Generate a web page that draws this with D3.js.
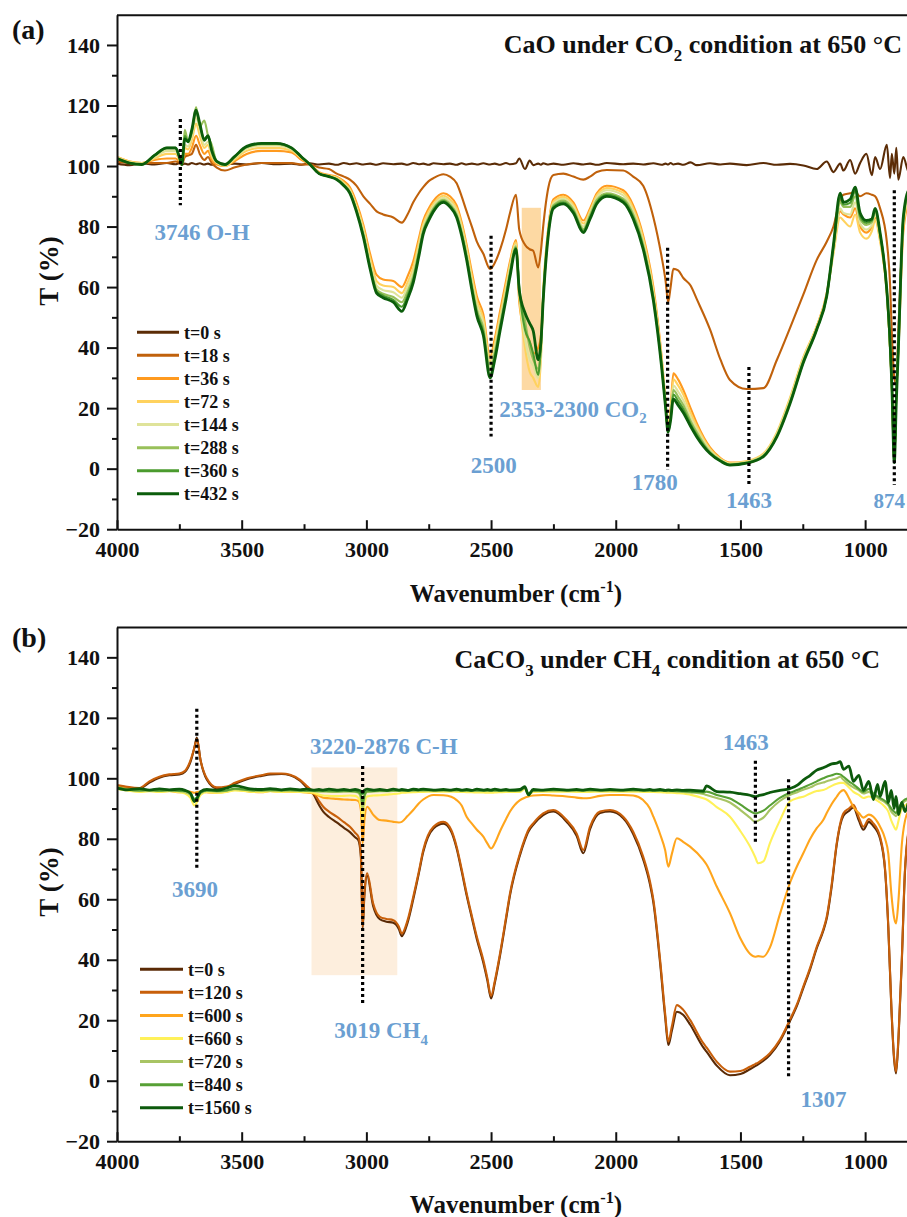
<!DOCTYPE html>
<html>
<head>
<meta charset="utf-8">
<script src="https://cdn.jsdelivr.net/npm/d3@7"></script>
<style>
  body { margin: 0; background: #fff; }
  svg { display: block; }
</style>
</head>
<body>
<div id="chart"></div>
<script>
// ---------- data: panel (a) CaO under CO2 ----------
const wnA = [
  4000, 3950, 3900, 3850, 3800, 3765, 3750, 3740, 3728, 3715,
  3700, 3683, 3668, 3650, 3635, 3620, 3600, 3567, 3530, 3480,
  3420, 3360, 3300, 3260, 3226, 3190, 3150, 3119, 3090, 3066,
  3040, 3012, 2985, 2959, 2933, 2892, 2858, 2835, 2812, 2790,
  2772, 2750, 2731, 2691, 2665, 2638, 2618, 2598, 2577, 2557,
  2531, 2504, 2485, 2464, 2440, 2424, 2400, 2387, 2364, 2345,
  2331, 2311, 2300, 2291, 2270, 2250, 2210, 2170, 2130, 2103,
  2076, 2036, 1970, 1930, 1890, 1849, 1816, 1800, 1790, 1780,
  1769, 1750, 1729, 1700, 1675, 1622, 1580, 1542, 1475, 1408,
  1354, 1301, 1248, 1194, 1154, 1127, 1100, 1087, 1060, 1040,
  1020, 995, 973, 960, 940, 913, 900, 893, 883, 875,
  867, 847, 825, 800
];
const a_t0 = [
  100.8, 100.3, 100.9, 100.5, 101, 100.6, 100.9, 100.4, 100.8, 100.5,
  101, 100.6, 100.9, 100.5, 100.8, 100.4, 100.9, 100.6, 100.8, 100.5,
  101, 100.6, 100.8, 100.4, 100.9, 100.5, 100.8, 100.4, 101, 100.6,
  100.9, 100.5, 100.8, 100.4, 100.9, 100.6, 100.8, 100.4, 101, 100.6,
  100.8, 100.4, 100.9, 100.6, 100.8, 100.4, 100.9, 100.5, 100.8, 100.5,
  100.9, 100.5, 100.8, 100.4, 101, 100.6, 100.9, 102.5, 99, 101.8,
  100.3, 100.8, 100.4, 100.9, 100.5, 100.8, 100.4, 100.9, 100.5, 100.8,
  100.4, 101, 100.6, 100.8, 100.5, 100.9, 100.4, 100.8, 100.5, 101,
  100.5, 100.8, 100.4, 101.2, 100.3, 100.9, 100.5, 100.8, 100.3, 101,
  100.4, 100.7, 100.2, 99, 101.5, 98, 100.8, 98.5, 102, 97.5,
  101, 104, 97, 103, 99, 107, 96, 104, 97.5, 106,
  95.5, 103, 98, 105
];
const a_t18 = [
  101.5, 101, 101, 101, 101, 101.5, 101, 100.5, 103, 103.5,
  104, 107, 104, 102, 103, 101, 99.5, 98.5, 99.5, 100.5,
  101, 101, 101, 100.5, 100.5, 99.5, 99, 97.5, 96.5, 95.5,
  93.5, 90, 87.5, 85, 84, 83, 81.3, 84, 88, 91,
  93, 95, 96, 97.3, 96.5, 94.3, 90, 85, 80, 75,
  71, 66, 68, 72.3, 79, 84.5, 90.5, 79, 74, 72.5,
  72, 66.5, 72, 80, 93, 97, 97.5, 96.5, 95.5, 96.5,
  98, 98.7, 98.5, 96.5, 93.5, 83, 70, 62, 55, 60,
  66, 65.5, 63, 60.5, 56, 46, 36, 29.3, 26.3, 26.6,
  35.9, 46.5, 57.5, 69, 75, 80, 89, 90.5, 91, 91.5,
  90, 91, 90.5, 90, 86, 75, 61, 45, 30, 28,
  45, 80, 90, 91
];
const a_t36 = [
  103, 101.5, 101, 102, 102.5, 102.5, 101.5, 100.5, 104, 104,
  106, 110, 107, 104, 105, 102, 100.5, 100, 101.5, 104,
  105, 105, 104.5, 102, 100.5, 98, 97, 96.5, 95, 93,
  88, 80.5, 71, 64, 62.5, 62, 60, 63.5, 68.5, 76,
  82, 86, 88.5, 91, 90, 87, 81.5, 74, 65, 57,
  51, 37, 43, 52, 62, 68.5, 75.5, 55, 45, 42,
  38, 40, 44, 58, 80, 89, 90.5, 88, 82, 86,
  91, 93.5, 92, 87, 77, 60, 37, 22, 13.5, 20,
  31.5, 29.5, 26, 20, 15, 7, 3.5, 2, 2, 4.5,
  11.5, 23, 36.5, 47, 58, 72, 85, 84, 83, 86,
  80, 78, 80, 83, 76, 58, 40, 28, 4, 25,
  38, 78, 88, 90
];
const a_t72 = [
  103, 101.5, 101, 102.5, 104, 104, 102, 100.5, 106, 105.5,
  108.5, 114, 110, 106, 107, 103, 101, 100, 102, 105,
  106, 106, 105, 102.5, 100.5, 97.8, 96.8, 96.2, 94.5, 92.3,
  87, 79.5, 69.5, 62, 60.5, 60, 58, 61.5, 66.5, 74.5,
  80.8, 85, 87.5, 90.2, 89, 86, 80.5, 73, 63.5, 55.5,
  49.5, 35.5, 41.5, 50.5, 60.5, 67.5, 74.8, 57, 40, 32,
  30, 27, 36, 57.5, 79.5, 88.2, 89.8, 87.2, 81, 85.2,
  90.3, 92.7, 91.2, 86, 76, 58.8, 36, 21.5, 13, 18.5,
  29.5, 27.5, 24.5, 18.5, 14, 6.5, 3.2, 1.8, 2.5, 5,
  12, 23.5, 36.8, 47, 57.5, 71, 83, 82, 80, 84,
  78, 76, 78.5, 82, 75, 58, 40, 27, 3, 25,
  39, 80, 89, 91
];
const a_t144 = [
  102.8, 101.2, 100.8, 103, 105, 105, 102.5, 100.5, 107, 106.5,
  110, 116, 112, 107, 108, 104, 101.2, 100.2, 102.5, 105.8,
  106.8, 106.8, 105.5, 102.8, 100.5, 97.6, 96.6, 95.9, 94, 91.8,
  86.2, 78.5, 68.2, 60.5, 59, 58.3, 56.5, 60, 65, 73,
  79.8, 84, 86.8, 89.5, 88.2, 85, 79.4, 71.8, 62, 54,
  48, 34, 40, 49, 59, 66.5, 74, 58, 43, 36,
  34, 30, 38, 57, 79, 87.5, 89.2, 86.5, 80, 84.5,
  89.6, 92, 90.3, 85, 75, 57.8, 35.3, 21, 12.8, 17.8,
  27.5, 25.5, 22.6, 17, 13, 6, 3, 1.6, 2.2, 4.6,
  11.5, 22.8, 36.2, 46.6, 57.3, 72, 86, 84.5, 84, 88,
  81, 79, 80.5, 84, 76.5, 58.5, 40, 27.5, 2.5, 25,
  39.5, 81, 90, 92
];
const a_t288 = [
  102.5, 101, 100.6, 103.5, 105.8, 105.8, 103, 100.5, 112, 108,
  111, 119.5, 113, 115, 110, 107, 101.5, 100.3, 102.8, 106.2,
  107.2, 107.2, 105.8, 103, 100.5, 97.5, 96.5, 95.7, 93.8, 91.4,
  85.6, 77.5, 67, 59.2, 57.8, 56.7, 55, 58.5, 63.5, 71.8,
  78.8, 83.2, 86, 88.8, 87.4, 84, 78.3, 70.5, 60.8, 52.5,
  46.5, 32.5, 38.5, 47.5, 57.8, 65.2, 73.5, 60, 49, 40,
  36, 33, 40, 56.5, 78.5, 87, 88.6, 85.7, 79.2, 83.8,
  88.8, 91, 89.2, 84, 74, 56.8, 34.6, 20.6, 12.5, 17,
  26, 23.8, 21, 15.8, 12, 5.5, 2.8, 1.4, 2, 4.3,
  11, 22.2, 35.6, 46.3, 57.1, 73, 88, 86.5, 86.5, 90,
  82.5, 80.5, 81.5, 85, 77.2, 58.8, 40, 27.8, 2.2, 25,
  39.8, 82, 91, 92.5
];
const a_t360 = [
  102.5, 101, 100.5, 103.5, 106, 106, 103, 100.5, 110, 108,
  111.5, 118, 113.5, 109, 110, 105.5, 101.5, 100.4, 103, 106.4,
  107.4, 107.4, 106, 103, 100.5, 97.5, 96.5, 95.6, 93.6, 91.2,
  85.3, 77, 66.5, 58.6, 57.2, 55.8, 53.5, 57.2, 62.5, 70.9,
  78.2, 82.6, 85.5, 88.4, 86.9, 83.5, 77.6, 69.7, 59.9, 51.5,
  45.2, 31, 37.2, 46.5, 56.9, 64.3, 73, 59.5, 46, 42,
  38, 31, 41, 56, 78, 86.5, 88, 85.1, 78.6, 83.1,
  88.1, 90.5, 88.6, 83.2, 73.2, 56.2, 34, 20.3, 12.2, 16.5,
  24.5, 22.4, 19.7, 14.8, 11.2, 5.2, 2.6, 1.3, 1.9, 4.1,
  10.7, 21.8, 35.2, 46.1, 57, 73.5, 89.5, 87.2, 87.8, 91.5,
  83.5, 81.2, 82, 85.5, 77.6, 58.9, 40, 27.9, 2.1, 25,
  39.9, 82.5, 91.5, 92.8
];
const a_t432 = [
  102.5, 101, 100.5, 103.5, 106, 106, 103, 100.5, 109, 108,
  112, 118.5, 114, 108.5, 110, 105, 101.5, 100.5, 103, 106.5,
  107.5, 107.5, 106, 103, 100.5, 97.5, 96.5, 95.5, 93.5, 91,
  85, 76.5, 66, 58, 56.5, 55, 52, 56, 61.5, 70,
  77.5, 82, 85, 88, 86.5, 83, 77, 69, 59, 50.5,
  44, 30, 36, 45.5, 56, 63.5, 72.5, 59, 51.5, 48,
  45.5, 36, 42, 55.5, 77.5, 86, 87.5, 84.5, 78, 82.5,
  87.5, 90, 88, 82.5, 72.5, 55.5, 33.5, 20, 12, 16,
  23, 21, 18.5, 14, 10.5, 5, 2.5, 1.2, 1.8, 4,
  10.5, 21.5, 35, 46, 57, 74, 91, 88, 89, 93,
  84.5, 82, 82.5, 86, 78, 59, 42, 28, 2, 22,
  39, 83, 92, 93
];
const labelsA = ["t=0 s", "t=18 s", "t=36 s", "t=72 s", "t=144 s", "t=288 s", "t=360 s", "t=432 s"];
const colorsA = ["#5b2c06", "#c0610b", "#ff9a1f", "#ffd25e", "#dfe39a", "#98c05a", "#4b9b2e", "#0b5d0b"];

// ---------- data: panel (b) CaCO3 under CH4 ----------
const wnB = [
  4000, 3960, 3910, 3870, 3830, 3790, 3750, 3727, 3705, 3690,
  3680, 3665, 3640, 3600, 3560, 3527, 3466, 3420, 3386, 3340,
  3306, 3266, 3240, 3213, 3190, 3173, 3150, 3119, 3090, 3066,
  3045, 3032, 3022, 3015, 3008, 2997, 2973, 2946, 2920, 2892,
  2870, 2858, 2835, 2812, 2790, 2772, 2731, 2691, 2660, 2638,
  2618, 2598, 2577, 2557, 2531, 2515, 2500, 2485, 2464, 2440,
  2424, 2384, 2365, 2350, 2331, 2291, 2250, 2197, 2157, 2130,
  2103, 2063, 2023, 1970, 1930, 1890, 1863, 1849, 1822, 1802,
  1789, 1775, 1755, 1730, 1702, 1649, 1636, 1595, 1542, 1500,
  1462, 1441, 1429, 1408, 1382, 1342, 1302, 1270, 1248, 1220,
  1194, 1168, 1154, 1134, 1114, 1100, 1087, 1065, 1047, 1025,
  1007, 985, 967, 950, 940, 920, 907, 895, 884, 876,
  866, 853, 840, 820, 800
];
const b_t0 = [
  97.5, 97, 96.6, 98.6, 100.2, 101, 101.3, 102.2, 105.5, 110,
  113.5, 106, 99.6, 96.7, 97, 98.2, 100, 100.8, 101.3, 101.4,
  101, 99.2, 97, 94.8, 91.2, 89, 87.2, 85.4, 83.6, 82.2,
  80.5, 79.5, 74, 50.5, 61, 67.8, 57.8, 53.4, 52.6, 52.2,
  50.2, 47.8, 52.2, 60, 68.4, 75.6, 83.4, 85, 82.4, 76.8,
  69.3, 61.3, 53.8, 46.8, 39, 33.2, 27.2, 32.3, 41.4, 53.3,
  61.3, 74.6, 79.4, 82.4, 84.6, 87.8, 89, 85.6, 81, 75.2,
  83.2, 88.5, 89, 86.8, 81.6, 73.2, 65, 58.8, 38.8, 21.2,
  11.8, 16.5, 22.8, 21.8, 18.6, 11, 9.6, 5, 1.8, 2.2,
  3.8, 4.8, 5.4, 6.6, 8.5, 13, 19.6, 25.5, 30.6, 37,
  43.8, 49.5, 53.6, 64.3, 78, 84.5, 87.6, 89.2, 90.4, 86,
  83, 85.6, 84.2, 82.2, 80, 69.5, 50.5, 24.5, 7.2, 2.4,
  14.2, 39.2, 69.4, 84.5, 87.5
];
const b_t120 = [
  97.8, 97.2, 96.8, 99, 100.5, 101.3, 101.6, 102.5, 106, 110,
  113, 106, 100, 97, 97.3, 98.5, 100.3, 101, 101.6, 101.6,
  101.2, 99.5, 97.5, 95.5, 92.5, 90.6, 89, 87.3, 85.5, 84,
  82, 80.7, 75, 51, 62, 68.6, 58.7, 54.2, 53.5, 53.1,
  51, 48.7, 53, 60.8, 69, 76.3, 84, 85.6, 83, 77.4,
  70, 62, 54.5, 47.6, 39.9, 34, 28, 33, 42.1, 54,
  62, 75.2, 80, 83, 85.1, 88.4, 89.5, 86.2, 81.8, 76.3,
  84, 89, 89.5, 87.3, 82.3, 74.1, 66, 59.8, 39.9, 22.3,
  12.9, 18, 25, 23.5, 20.1, 12.4, 11, 6.3, 3, 3.2,
  4.6, 5.5, 6, 7.2, 9.1, 13.5, 20.1, 26, 31.1, 37.5,
  44.3, 50, 54.2, 65, 78.5, 85, 88.4, 90, 91.2, 87,
  84, 86.5, 85.1, 83, 80.7, 70, 50.9, 25, 8, 3,
  15, 39.9, 70, 85, 88
];
const b_t600 = [
  97.2, 96.5, 95.8, 96, 95.6, 95.8, 95.4, 95.6, 95.5, 95.2,
  95.5, 95.6, 95.4, 95.2, 95.6, 96.2, 95.6, 95.4, 95.8, 95.5,
  95.6, 95.5, 95.3, 95, 94.2, 93.6, 93.4, 93.2, 93, 92.9,
  92.8, 92.5, 89.5, 78.5, 86, 90.6, 88, 86.2, 86, 85.6,
  85.4, 85.6, 87.5, 89.5, 91.7, 93, 94.5, 94.4, 93.9, 92.8,
  91, 87.3, 85, 83, 80.7, 78.5, 76.8, 78.5, 82.5, 86.5,
  89, 92.8, 93.6, 94, 94.3, 94.5, 94.3, 94, 93.6, 93.4,
  93.5, 94.2, 94.5, 94.5, 94.3, 92.8, 90, 87.3, 81.5, 76.3,
  70.8, 75, 80.2, 79, 77.4, 73, 71.5, 64.2, 55.4, 47,
  42, 41, 41.2, 41, 44, 55, 65.3, 71.5, 75.2, 80,
  83.5, 86.2, 88.5, 91.5, 93.9, 95.5, 96.1, 93.5, 90.5, 88.5,
  87, 88, 87.3, 85.5, 84, 80, 75, 62, 54, 52,
  60, 78, 86, 90, 91
];
const b_t660 = [
  96.5, 96, 95.5, 95.7, 95.5, 95.7, 95.4, 95, 93.5, 91,
  92, 94.5, 95.5, 95.2, 95.5, 96, 95.6, 95.5, 95.7, 95.5,
  95.6, 95.5, 95.4, 95.2, 94.6, 94.3, 94.2, 94.1, 94.2, 94.3,
  94.2, 93.5, 91, 86, 91, 94, 94.3, 94.4, 94.6, 94.8,
  95, 95.2, 95.3, 95.4, 95.5, 95.5, 95.6, 95.6, 95.6, 95.5,
  95.5, 95.4, 95.4, 95.3, 95.3, 95.2, 95.2, 95.3, 95.4, 95.5,
  95.5, 95.5, 96.5, 94.5, 95.5, 95.6, 95.6, 95.6, 95.5, 95.5,
  95.5, 95.6, 95.6, 95.6, 95.6, 95.5, 95.5, 95.5, 95.4, 95.3,
  95.2, 95.2, 95.1, 95, 94.6, 93.4, 93, 90.5, 87.3, 82.5,
  77.5, 74, 71.9, 72.5, 78.5, 86, 92.3, 93.5, 93.9, 95,
  95.8, 96.1, 96.6, 97.5, 98.2, 98.5, 98.5, 97, 95.5, 94.5,
  93.5, 94, 93.5, 92.5, 92, 90.5, 89, 86, 84, 83,
  86, 90, 91, 92, 92
];
const b_t720 = [
  96.8, 96.2, 95.8, 96, 95.8, 96, 95.7, 95.4, 94.5, 92.5,
  93, 95, 95.8, 95.6, 95.9, 96.4, 96, 95.9, 96, 95.9,
  96, 95.9, 95.8, 95.7, 95.6, 95.6, 95.5, 95.5, 95.6, 95.6,
  95.5, 95.2, 93.5, 90, 93.5, 95.5, 95.6, 95.7, 95.7, 95.8,
  95.8, 95.8, 95.9, 95.9, 96, 96, 96, 96, 96, 96,
  95.9, 95.9, 95.9, 95.9, 95.8, 95.8, 95.8, 95.8, 95.9, 95.9,
  95.9, 95.9, 96.8, 94.8, 95.9, 96, 96, 96, 96, 95.9,
  96, 96, 96, 96, 96, 95.9, 95.9, 95.9, 95.8, 95.8,
  95.7, 95.7, 95.6, 95.5, 95.3, 94.8, 94.5, 93.5, 92, 89.5,
  87, 85.6, 86, 87, 89.5, 92.5, 94.5, 95.5, 96.2, 97,
  98, 98.6, 99, 99.5, 100, 100.5, 99.5, 98, 97, 96,
  95, 95.5, 94.5, 93.5, 93, 92, 91, 89, 88, 87.5,
  89, 91.5, 92.5, 93, 93
];
const b_t840 = [
  97, 96.3, 96, 96.1, 95.9, 96.1, 95.8, 95.8, 95, 93.2,
  93.6, 95.3, 96, 95.8, 96, 96.6, 96.1, 96, 96.1, 96,
  96.1, 96, 95.9, 95.9, 95.8, 95.8, 95.8, 95.7, 95.8, 95.8,
  95.7, 95.5, 94.5, 92, 94.3, 95.7, 95.8, 95.9, 95.9, 96,
  96, 96, 96, 96.1, 96.1, 96.1, 96.1, 96.1, 96.1, 96.1,
  96, 96, 96, 96, 96, 96, 96, 96, 96, 96,
  96, 96, 97, 94.9, 96, 96.1, 96.1, 96.1, 96.1, 96,
  96.1, 96.1, 96.1, 96.1, 96.1, 96, 96, 96, 96, 96,
  95.9, 95.9, 95.8, 95.7, 95.6, 95.3, 95.6, 94.5, 93.3, 91.3,
  89.2, 88.4, 88.6, 89.3, 91, 93.5, 95.2, 96.2, 97, 98,
  99, 100, 100.5, 101, 101.5, 101.3, 100.5, 99, 98, 96.5,
  95.5, 96.5, 95, 94, 93.5, 92.5, 91.5, 90, 89, 88.5,
  90, 92, 93, 93.5, 93.5
];
const b_t1560 = [
  96.8, 96.2, 96.6, 96.1, 96.5, 96.2, 96.4, 96, 95, 92.3,
  93.2, 95.6, 96.3, 96, 96.8, 97.6, 96.5, 96.3, 96.6, 96.2,
  96.5, 96.2, 96.4, 96.1, 96.3, 96.1, 96.4, 96.1, 96.3, 96,
  96.3, 96.1, 95.8, 95, 96, 96.4, 96.1, 96.3, 96, 96.4,
  96.1, 96.3, 96, 96.4, 96.2, 96.4, 96.1, 96.3, 96.1, 96.4,
  96.1, 96.3, 96, 96.4, 96.1, 96.3, 96.1, 96.4, 96.1, 96.3,
  96.1, 96.3, 97.2, 94.5, 96.3, 96.1, 96.4, 96.1, 96.3, 96.1,
  96.4, 96.1, 96.3, 96.1, 96.4, 96.1, 96.3, 96.1, 96.3, 96,
  96.2, 96, 96.2, 96, 96.1, 95.8, 97.5, 95.6, 95.4, 94.9,
  94.4, 93.9, 94.2, 94.6, 95.3, 96, 96.6, 97.8, 99.4, 101,
  102.7, 103.5, 104, 104.8, 105, 105.5, 103, 104, 99, 101,
  96, 99, 93, 98, 94, 99, 92, 96, 90, 94,
  88, 92, 89, 93, 91
];
const labelsB = ["t=0 s", "t=120 s", "t=600 s", "t=660 s", "t=720 s", "t=840 s", "t=1560 s"];
const colorsB = ["#5a2a06", "#c85f0a", "#ffa51c", "#fff159", "#a8c464", "#57a035", "#0c5a0c"];

// axis ticks
const xMajor = [4000, 3500, 3000, 2500, 2000, 1500, 1000];
const xMinor = [3750, 3250, 2750, 2250, 1750, 1250];
const yMajor = [-20, 0, 20, 40, 60, 80, 100, 120, 140];
const yMinor = [-10, 10, 30, 50, 70, 90, 110, 130];

const FONT = "'Liberation Serif', 'Times New Roman', serif";
const BLUE = "#6b9fd2";

const svg = d3.select("#chart").append("svg")
  .attr("width", 907)
  .attr("height", 1217)
  .style("background", "#fff");

const x = d3.scaleLinear().domain([4000, 800]).range([117, 915]);

// text with sub/superscripts: parts = [[text, kind]] kind: undefined | "sub" | "sup"
function richText(g, px, py, parts, size, fill, anchor) {
  const t = g.append("text")
    .attr("x", px).attr("y", py)
    .attr("font-family", FONT)
    .attr("font-weight", "bold")
    .attr("font-size", size)
    .attr("fill", fill)
    .attr("text-anchor", anchor || "start");
  let shift = 0;
  parts.forEach(([s, kind]) => {
    let target = 0;
    if (kind === "sub") target = size * 0.28;
    if (kind === "sup") target = -size * 0.4;
    const ts = t.append("tspan").attr("dy", target - shift).text(s);
    if (kind) ts.attr("font-size", size * 0.65);
    shift = target;
  });
  return t;
}

function drawPanel(cfg) {
  const y = d3.scaleLinear().domain([-20, 150]).range(cfg.yRange);
  const g = svg.append("g");
  const top = y(150), bottom = y(-20);

  g.append("clipPath").attr("id", cfg.id + "-clip")
    .append("rect").attr("x", 117).attr("y", top).attr("width", 800).attr("height", bottom - top);

  // shaded bands
  cfg.bands.forEach(b => {
    g.append("rect")
      .attr("x", x(b.from)).attr("width", x(b.to) - x(b.from))
      .attr("y", y(b.hi)).attr("height", y(b.lo) - y(b.hi))
      .attr("fill", b.color);
  });

  // spectra
  const line = d3.line()
    .x((d, i) => x(cfg.wn[i]))
    .y(d => y(d))
    .curve(d3.curveMonotoneX);
  const plot = g.append("g").attr("clip-path", `url(#${cfg.id}-clip)`);
  cfg.series.forEach((s, i) => {
    plot.append("path")
      .attr("d", line(s))
      .attr("fill", "none")
      .attr("stroke", cfg.colors[i])
      .attr("stroke-width", i === cfg.series.length - 1 ? 2.8 : 2.1)
      .attr("stroke-linejoin", "round");
  });

  // dotted markers
  cfg.marks.forEach(m => {
    g.append("line")
      .attr("x1", x(m.wn)).attr("x2", x(m.wn))
      .attr("y1", y(m.hi)).attr("y2", y(m.lo))
      .attr("stroke", "#000").attr("stroke-width", 3.2)
      .attr("stroke-dasharray", "3,3");
  });

  // blue labels
  cfg.notes.forEach(n => {
    richText(g, x(n.wn), y(n.t), n.parts, n.size || 23, BLUE, n.anchor);
  });

  // axes
  const styleAxis = sel => {
    sel.attr("font-family", FONT).attr("font-size", 22).attr("font-weight", "bold");
    sel.selectAll("path.domain").attr("stroke-width", 2).attr("stroke", "#111");
    sel.selectAll(".tick line").attr("stroke-width", 2).attr("stroke", "#111");
    sel.selectAll(".tick text").attr("fill", "#111");
  };
  g.append("g").attr("transform", `translate(0,${bottom})`)
    .call(d3.axisBottom(x).tickValues(xMajor).tickFormat(d3.format("d"))
      .tickSize(-9).tickSizeOuter(0).tickPadding(12))
    .call(styleAxis);
  g.append("g").attr("transform", `translate(0,${bottom})`)
    .call(d3.axisBottom(x).tickValues(xMinor).tickSize(-5).tickSizeOuter(0).tickFormat(""))
    .call(styleAxis)
    .call(a => a.select(".domain").remove());
  g.append("g").attr("transform", "translate(117,0)")
    .call(d3.axisLeft(y).tickValues(yMajor).tickFormat(d3.format("d"))
      .tickSize(10).tickSizeOuter(0).tickPadding(7))
    .call(styleAxis);
  g.append("g").attr("transform", "translate(117,0)")
    .call(d3.axisLeft(y).tickValues(yMinor).tickSize(5).tickSizeOuter(0).tickFormat(""))
    .call(styleAxis)
    .call(a => a.select(".domain").remove());
  g.append("line")
    .attr("x1", 117).attr("x2", 915).attr("y1", top + 0.5).attr("y2", top + 0.5)
    .attr("stroke", "#111").attr("stroke-width", 2);

  // legend
  cfg.legendNames.forEach((name, i) => {
    const ly = cfg.legend.y + i * 23.07;
    g.append("line")
      .attr("x1", cfg.legend.x1).attr("x2", cfg.legend.x2)
      .attr("y1", ly).attr("y2", ly)
      .attr("stroke", cfg.colors[i]).attr("stroke-width", 3);
    g.append("text")
      .attr("x", cfg.legend.x2 + 5).attr("y", ly + 6.5)
      .attr("font-family", FONT).attr("font-weight", "bold").attr("font-size", 18)
      .attr("fill", "#111")
      .text(name);
  });

  // titles
  richText(g, cfg.title.x, cfg.title.y, cfg.title.parts, 26, "#111", "end");
  g.append("text")
    .attr("x", 12).attr("y", cfg.tagY)
    .attr("font-family", FONT).attr("font-weight", "bold").attr("font-size", 28)
    .attr("fill", "#111").text(cfg.tag);
  richText(g, 516, cfg.xTitleY, [["Wavenumber (cm"], ["-1", "sup"], [")"]], 25, "#111", "middle");
  g.append("text")
    .attr("transform", `translate(58,${cfg.yTitleY}) rotate(-90)`)
    .attr("text-anchor", "middle")
    .attr("font-family", FONT).attr("font-weight", "bold").attr("font-size", 27)
    .attr("fill", "#111").text("T (%)");
}

drawPanel({
  id: "pa",
  yRange: [529.2, 14.7],
  wn: wnA,
  series: [a_t0, a_t18, a_t36, a_t72, a_t144, a_t288, a_t360, a_t432],
  colors: colorsA,
  legendNames: labelsA,
  legend: { x1: 137, x2: 179, y: 332.3 },
  bands: [{ from: 2377, to: 2300, hi: 86.2, lo: 26, color: "#fdd9a3" }],
  marks: [
    { wn: 3746, hi: 115.5, lo: 87 },
    { wn: 2500, hi: 77, lo: 10.6 },
    { wn: 1792, hi: 73, lo: -0.4 },
    { wn: 1466, hi: 33.6, lo: -5.4 },
    { wn: 883, hi: 92, lo: -5.4 }
  ],
  notes: [
    { wn: 3659, t: 75.5, parts: [["3746 O-H"]], anchor: "middle" },
    { wn: 2489, t: -1.5, parts: [["2500"]], anchor: "middle" },
    { wn: 2467, t: 17.2, parts: [["2353-2300 CO"], ["2", "sub"]], anchor: "start" },
    { wn: 1844, t: -7, parts: [["1780"]], anchor: "middle" },
    { wn: 1466, t: -12.9, parts: [["1463"]], anchor: "middle" },
    { wn: 840, t: -12.9, parts: [["874"]], anchor: "end", size: 21 }
  ],
  title: { x: 902, y: 53.3, parts: [["CaO under CO"], ["2", "sub"], [" condition at 650 °C"]] },
  tag: "(a)", tagY: 38.5,
  xTitleY: 601.5, yTitleY: 271
});

drawPanel({
  id: "pb",
  yRange: [1141.2, 627.1],
  wn: wnB,
  series: [b_t0, b_t120, b_t600, b_t660, b_t720, b_t840, b_t1560],
  colors: colorsB,
  legendNames: labelsB,
  legend: { x1: 140, x2: 183, y: 969.3 },
  bands: [{ from: 3220, to: 2876, hi: 103.6, lo: 34.9, color: "#fdeedd" }],
  marks: [
    { wn: 3680, hi: 123, lo: 70.3 },
    { wn: 3015, hi: 104.1, lo: 25.4 },
    { wn: 1440, hi: 105.8, lo: 78.5 },
    { wn: 1307, hi: 99.7, lo: 1.3 }
  ],
  notes: [
    { wn: 3687, t: 60.8, parts: [["3690"]], anchor: "middle" },
    { wn: 3226, t: 108, parts: [["3220-2876 C-H"]], anchor: "start" },
    { wn: 3129, t: 14, parts: [["3019 CH"], ["4", "sub"]], anchor: "start" },
    { wn: 1479, t: 109.4, parts: [["1463"]], anchor: "middle" },
    { wn: 1167, t: -8.6, parts: [["1307"]], anchor: "middle" }
  ],
  title: { x: 880, y: 668.3, parts: [["CaCO"], ["3", "sub"], [" under CH"], ["4", "sub"], [" condition at 650 °C"]] },
  tag: "(b)", tagY: 646.7,
  xTitleY: 1213.3, yTitleY: 882
});
</script>
</body>
</html>
